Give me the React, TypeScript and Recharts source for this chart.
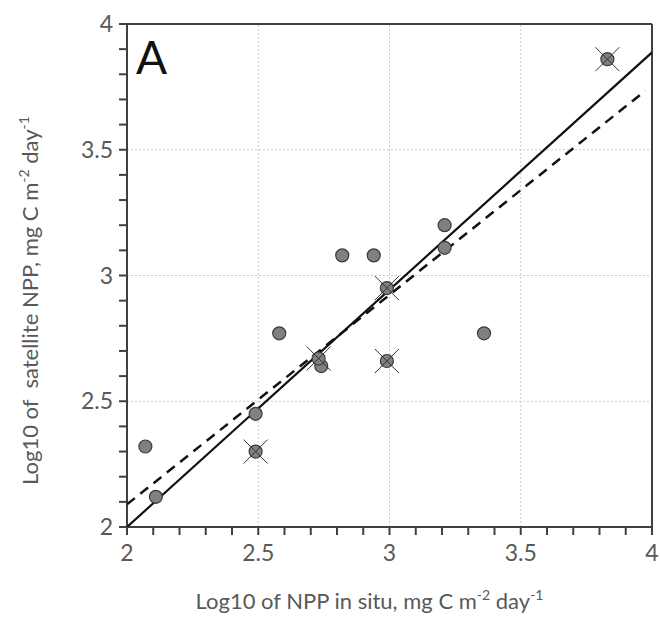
import { ComposedChart, Scatter, XAxis, YAxis, ReferenceLine, Label, Customized } from 'recharts';

// plain circles: in situ vs satellite (log10)
const insituX = [2.07, 2.11, 2.49, 2.58, 2.74, 2.82, 2.94, 3.21, 3.21, 3.36];
const satelliteY = [2.32, 2.12, 2.45, 2.77, 2.64, 3.08, 3.08, 3.2, 3.11, 2.77];

// circles marked with a cross
const flaggedX = [2.49, 2.73, 2.99, 2.99, 3.83];
const flaggedY = [2.3, 2.67, 2.95, 2.66, 3.86];

// fitted lines (end points)
const solidFitX = [2, 4];
const solidFitY = [2, 3.887];
const dashedFitX = [2, 3.975];
const dashedFitY = [2.09, 3.735];

const majorTicks = [2, 2.5, 3, 3.5, 4];
const minorTicks = [2, 2.1, 2.2, 2.3, 2.4, 2.5, 2.6, 2.7, 2.8, 2.9, 3, 3.1, 3.2, 3.3, 3.4, 3.5, 3.6, 3.7, 3.8, 3.9, 4];
const gridLines = [2.5, 3, 3.5];

const zip = (xs: number[], ys: number[]) => xs.map((x, i) => ({ x, y: ys[i] }));

const points = zip(insituX, satelliteY);
const flagged = zip(flaggedX, flaggedY);
const solidFit = zip(solidFitX, solidFitY);
const dashedFit = zip(dashedFitX, dashedFitY);

const FONT = 'Lato, "Open Sans", sans-serif';
const GREY_TEXT = '#595959';
const AXIS = '#404040';

const fmt = (v: number) => (majorTicks.some((t) => Math.abs(t - v) < 1e-6) ? String(v) : '');

const Dot = (props: any) => {
  const { cx, cy } = props;
  if (cx == null || cy == null) return null;
  return <circle cx={cx} cy={cy} r={6.5} fill="#808080" stroke="#3a3a3a" strokeWidth={1.2} />;
};

const CrossDot = (props: any) => {
  const { cx, cy } = props;
  if (cx == null || cy == null) return null;
  const d = 12;
  return (
    <g>
      <circle cx={cx} cy={cy} r={6.5} fill="#808080" stroke="#3a3a3a" strokeWidth={1.2} />
      <line x1={cx - d} y1={cy - d} x2={cx + d} y2={cy + d} stroke="#333" strokeWidth={1} />
      <line x1={cx - d} y1={cy + d} x2={cx + d} y2={cy - d} stroke="#333" strokeWidth={1} />
    </g>
  );
};

const NoDot = () => null;

const XTitle = (props: any) => {
  const { viewBox } = props;
  const cx = viewBox.x + viewBox.width / 2 - 20;
  return (
    <text x={cx} y={609} textAnchor="middle" fill={GREY_TEXT} fontFamily={FONT} fontSize={22}>
      Log10 of NPP in situ, mg C m
      <tspan fontSize={14} dy={-9}>-2</tspan>
      <tspan dy={9}> day</tspan>
      <tspan fontSize={14} dy={-9}>-1</tspan>
    </text>
  );
};

const YTitle = (props: any) => {
  const { viewBox } = props;
  const cy = viewBox.y + viewBox.height / 2 + 25;
  return (
    <text
      x={38}
      y={cy}
      transform={`rotate(-90, 38, ${cy})`}
      textAnchor="middle"
      fill={GREY_TEXT}
      fontFamily={FONT}
      fontSize={22}
      style={{ whiteSpace: 'pre' }}
    >
      {'Log10 of  satellite NPP, mg C m'}
      <tspan fontSize={14} dy={-9}>-2</tspan>
      <tspan dy={9}> day</tspan>
      <tspan fontSize={14} dy={-9}>-1</tspan>
    </text>
  );
};

const PanelLetter = () => (
  <text x={136} y={74} fill="#111" fontFamily={FONT} fontSize={46}>
    A
  </text>
);

export default function App() {
  return (
    <div style={{ position: 'absolute', left: 0, top: 0, background: '#fff' }}>
      <ComposedChart width={660} height={617} margin={{ top: 24, right: 8, left: 0, bottom: 0 }}>
        <XAxis
          type="number"
          dataKey="x"
          domain={[2, 4]}
          ticks={minorTicks}
          tickFormatter={fmt}
          interval={0}
          allowDataOverflow
          height={90}
          stroke={AXIS}
          strokeWidth={2}
          tickSize={8}
          tickMargin={10}
          tick={{ fill: GREY_TEXT, fontSize: 23, fontFamily: FONT }}
        >
          <Label content={<XTitle />} />
        </XAxis>
        <YAxis
          type="number"
          dataKey="y"
          domain={[2, 4]}
          ticks={minorTicks}
          tickFormatter={fmt}
          interval={0}
          allowDataOverflow
          width={127}
          stroke={AXIS}
          strokeWidth={2}
          tickSize={8}
          tickMargin={6}
          tick={{ fill: GREY_TEXT, fontSize: 23, fontFamily: FONT }}
        >
          <Label content={<YTitle />} />
        </YAxis>

        {gridLines.map((g) => (
          <ReferenceLine key={`vx${g}`} x={g} stroke="#c8c8c8" strokeDasharray="2 2" />
        ))}
        {gridLines.map((g) => (
          <ReferenceLine key={`hy${g}`} y={g} stroke="#c8c8c8" strokeDasharray="2 2" />
        ))}
        <ReferenceLine y={4} stroke={AXIS} strokeWidth={2} />
        <ReferenceLine x={4} stroke={AXIS} strokeWidth={2} />

        <Scatter
          data={dashedFit}
          line={{ stroke: '#111', strokeWidth: 2.5, strokeDasharray: '10 7' }}
          shape={<NoDot />}
          isAnimationActive={false}
        />
        <Scatter
          data={solidFit}
          line={{ stroke: '#111', strokeWidth: 2.2 }}
          shape={<NoDot />}
          isAnimationActive={false}
        />
        <Scatter data={points} shape={<Dot />} isAnimationActive={false} />
        <Scatter data={flagged} shape={<CrossDot />} isAnimationActive={false} />
        <Customized component={<PanelLetter />} />
      </ComposedChart>
    </div>
  );
}
